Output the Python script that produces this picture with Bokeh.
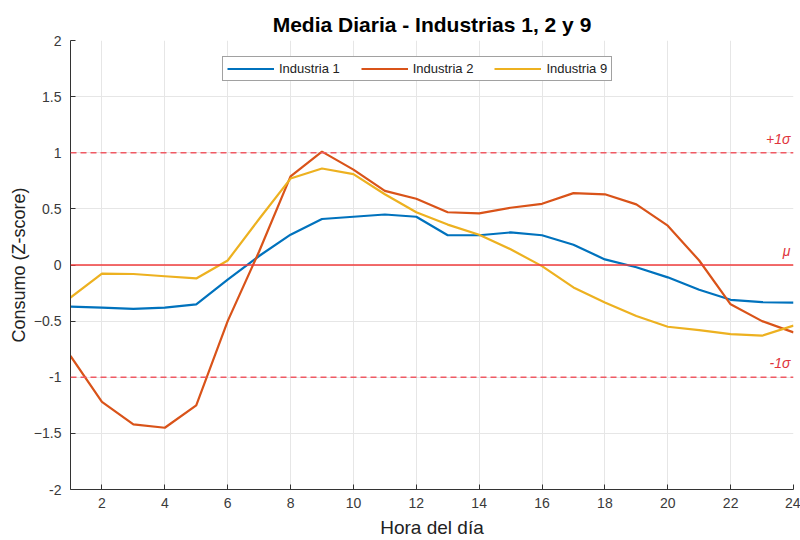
from bokeh.plotting import figure
from bokeh.models import Span, Label, Legend, LegendItem, FixedTicker, Range1d
from bokeh.embed import file_html
from bokeh.resources import INLINE

hours = list(range(1, 25))
ind1 = [-0.37, -0.38, -0.39, -0.38, -0.35, -0.13, 0.08, 0.27, 0.41, 0.43, 0.45, 0.43,
        0.265, 0.265, 0.29, 0.265, 0.18, 0.05, -0.02, -0.11, -0.22, -0.31, -0.33, -0.335]
ind2 = [-0.81, -1.22, -1.42, -1.45, -1.25, -0.5, 0.12, 0.79, 1.01, 0.85, 0.66, 0.59,
        0.47, 0.46, 0.51, 0.545, 0.64, 0.63, 0.54, 0.35, 0.04, -0.35, -0.5, -0.6]
ind9 = [-0.29, -0.077, -0.08, -0.1, -0.12, 0.04, 0.41, 0.77, 0.86, 0.81, 0.63, 0.47,
        0.36, 0.27, 0.14, -0.01, -0.2, -0.335, -0.455, -0.55, -0.58, -0.615, -0.63, -0.54]
series_names = ["Industria 1", "Industria 2", "Industria 9"]
series_colors = ["#0072BD", "#D95319", "#EDB120"]
sigma_levels = [1, 0, -1]
sigma_labels = ["+1σ", "μ", "-1σ"]
x_ticks = list(range(2, 25, 2))
y_ticks = [-2, -1.5, -1, -0.5, 0, 0.5, 1, 1.5, 2]

FONT = "Liberation Sans"

p = figure(width=800, height=540, output_backend="svg", toolbar_location=None,
           x_range=Range1d(1, 24), y_range=Range1d(-2, 2),
           min_border_left=70, min_border_right=7, min_border_top=40, min_border_bottom=51,
           title="Media Diaria - Industrias 1, 2 y 9")
p.outline_line_color = None
p.background_fill_color = "white"
p.border_fill_color = "white"

p.title.align = "center"
p.title.text_font = FONT
p.title.text_font_size = "21px"
p.title.text_font_style = "bold"
p.title.text_color = "#000000"
p.title.standoff = 10

for ax in (p.xaxis[0], p.yaxis[0]):
    ax.major_tick_in = 5
    ax.major_tick_out = 0
    ax.minor_tick_line_color = None
    ax.axis_line_color = "#333333"
    ax.major_tick_line_color = "#333333"
    ax.major_label_text_font = FONT
    ax.major_label_text_font_size = "14px"
    ax.major_label_text_color = "#3a3a3a"
    ax.axis_label_text_font = FONT
    ax.axis_label_text_font_style = "normal"
    ax.axis_label_text_color = "#222222"

p.xaxis.axis_label_text_font_size = "19px"
p.yaxis.axis_label_text_font_size = "18px"
p.xaxis.ticker = FixedTicker(ticks=x_ticks)
p.yaxis.ticker = FixedTicker(ticks=y_ticks)
p.xaxis.axis_label = "Hora del día"
p.yaxis.axis_label = "Consumo (Z-score)"
p.xaxis.major_label_standoff = 8
p.yaxis.major_label_standoff = 9
p.xaxis.axis_label_standoff = 6
p.yaxis.axis_label_standoff = 2
p.yaxis.major_label_overrides = {-2: "-2", -1: "-1", 0: "0", 1: "1", 2: "2"}

p.xgrid.grid_line_color = "#e6e6e6"
p.ygrid.grid_line_color = "#e6e6e6"
p.xgrid.ticker = FixedTicker(ticks=x_ticks)
p.ygrid.ticker = FixedTicker(ticks=y_ticks)

for lvl in sigma_levels:
    if lvl == 0:
        p.add_layout(Span(location=lvl, dimension="width", line_color="#f03c3c", line_width=1.5))
    else:
        p.add_layout(Span(location=lvl, dimension="width", line_color="#f05a64",
                          line_width=1.5, line_dash="6 4"))

for lvl, lab in zip(sigma_levels, sigma_labels):
    p.add_layout(Label(x=hours[-1], y=lvl, text=lab, text_align="right", x_offset=-3, y_offset=6,
                       text_font=FONT, text_font_size="14px", text_font_style="italic",
                       text_color="#e0343c"))

renderers = []
for data, col in zip([ind1, ind2, ind9], series_colors):
    r = p.line(hours, data, line_color=col, line_width=2.2)
    renderers.append(r)

legend = Legend(items=[LegendItem(label=n, renderers=[r]) for n, r in zip(series_names, renderers)],
                orientation="horizontal", location=(152, 408))
legend.label_text_font = FONT
legend.label_text_font_size = "13px"
legend.label_text_color = "#222222"
legend.glyph_width = 47
legend.glyph_height = 13
legend.spacing = 21
legend.padding = 4
legend.margin = 0
legend.label_standoff = 5
legend.border_line_color = "#444444"
legend.border_line_width = 1
legend.background_fill_alpha = 1
p.add_layout(legend, "center")

open("out.html", "w").write(file_html(p, INLINE))
